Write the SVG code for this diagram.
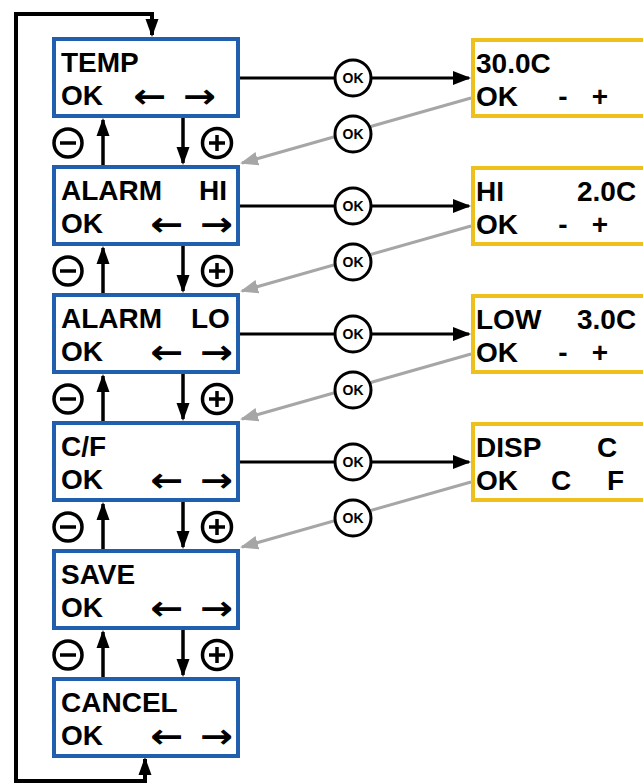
<svg xmlns="http://www.w3.org/2000/svg" width="643" height="784" viewBox="0 0 643 784">
<style>
.bx{fill:#fff;stroke:#1F5FAD;stroke-width:4}
.yb{fill:#fff;stroke:#EEC01B;stroke-width:4}
.t{font-family:"Liberation Sans",Arial,sans-serif;font-weight:bold;font-size:28px;fill:#000}
.arr{font-family:"DejaVu Sans",sans-serif;font-weight:bold;font-size:34px;fill:#000}
.mid{text-anchor:middle}
.ok{fill:#fff;stroke:#000;stroke-width:3}
.okt{font-family:"Liberation Sans",Arial,sans-serif;font-weight:bold;font-size:14px;text-anchor:middle;fill:#000}
.sym{fill:none;stroke:#000;stroke-width:3.5}
.blk{fill:none;stroke:#000;stroke-width:3}
.gry{fill:none;stroke:#A6A6A6;stroke-width:3}
.vt{fill:none;stroke:#000;stroke-width:3.5}
.loop{fill:none;stroke:#000;stroke-width:4}
</style>
<defs>
<marker id="ab" markerUnits="userSpaceOnUse" markerWidth="20" markerHeight="16" refX="16" refY="8" orient="auto"><path d="M0,1 L18,8 L0,15 Z" fill="#000"/></marker>
<marker id="ag" markerUnits="userSpaceOnUse" markerWidth="20" markerHeight="16" refX="16" refY="8" orient="auto"><path d="M0,1 L18,8 L0,15 Z" fill="#A6A6A6"/></marker>
<marker id="av" markerUnits="userSpaceOnUse" markerWidth="20" markerHeight="16" refX="16" refY="8" orient="auto-start-reverse"><path d="M0,1.5 L18,8 L0,14.5 Z" fill="#000"/></marker>
</defs>

<g id="connectors">
  <path class="loop" d="M145,759 V781 H16 V14 H152 V35" marker-start="url(#av)" marker-end="url(#av)"/>
  <path class="vt" d="M103,167 V120" marker-end="url(#av)"/>
  <path class="vt" d="M183,116 V163" marker-end="url(#av)"/>
  <path class="vt" d="M103,295 V248" marker-end="url(#av)"/>
  <path class="vt" d="M183,244 V291" marker-end="url(#av)"/>
  <path class="vt" d="M103,423 V376" marker-end="url(#av)"/>
  <path class="vt" d="M183,372 V419" marker-end="url(#av)"/>
  <path class="vt" d="M103,551 V504" marker-end="url(#av)"/>
  <path class="vt" d="M183,500 V547" marker-end="url(#av)"/>
  <path class="vt" d="M103,679 V632" marker-end="url(#av)"/>
  <path class="vt" d="M183,628 V675" marker-end="url(#av)"/>
  <path class="blk" d="M240,78 H469" marker-end="url(#ab)"/>
  <path class="blk" d="M240,206 H469" marker-end="url(#ab)"/>
  <path class="blk" d="M240,334 H469" marker-end="url(#ab)"/>
  <path class="blk" d="M240,462 H469" marker-end="url(#ab)"/>
  <path class="gry" d="M471,98 L242,163" marker-end="url(#ag)"/>
  <path class="gry" d="M471,226 L242,291" marker-end="url(#ag)"/>
  <path class="gry" d="M471,354 L242,419" marker-end="url(#ag)"/>
  <path class="gry" d="M471,482 L242,547" marker-end="url(#ag)"/>
  <g>
    <circle class="ok" cx="353" cy="78" r="18"/><text class="okt" x="353" y="83">OK</text>
    <circle class="ok" cx="353" cy="134" r="18"/><text class="okt" x="353" y="139">OK</text>
    <circle class="ok" cx="353" cy="206" r="18"/><text class="okt" x="353" y="211">OK</text>
    <circle class="ok" cx="353" cy="262" r="18"/><text class="okt" x="353" y="267">OK</text>
    <circle class="ok" cx="353" cy="334" r="18"/><text class="okt" x="353" y="339">OK</text>
    <circle class="ok" cx="353" cy="390" r="18"/><text class="okt" x="353" y="395">OK</text>
    <circle class="ok" cx="353" cy="462" r="18"/><text class="okt" x="353" y="467">OK</text>
    <circle class="ok" cx="353" cy="518" r="18"/><text class="okt" x="353" y="523">OK</text>
  </g>
  <g>
    <circle class="sym" cx="68" cy="143" r="14"/><path class="sym" d="M60,143 H76"/>
    <circle class="sym" cx="217" cy="143" r="14.5"/><path class="sym" d="M209,143 H225 M217,135 V151"/>
    <circle class="sym" cx="68" cy="271" r="14"/><path class="sym" d="M60,271 H76"/>
    <circle class="sym" cx="217" cy="271" r="14.5"/><path class="sym" d="M209,271 H225 M217,263 V279"/>
    <circle class="sym" cx="68" cy="399" r="14"/><path class="sym" d="M60,399 H76"/>
    <circle class="sym" cx="217" cy="399" r="14.5"/><path class="sym" d="M209,399 H225 M217,391 V407"/>
    <circle class="sym" cx="68" cy="527" r="14"/><path class="sym" d="M60,527 H76"/>
    <circle class="sym" cx="217" cy="527" r="14.5"/><path class="sym" d="M209,527 H225 M217,519 V535"/>
    <circle class="sym" cx="68" cy="655" r="14"/><path class="sym" d="M60,655 H76"/>
    <circle class="sym" cx="217" cy="655" r="14.5"/><path class="sym" d="M209,655 H225 M217,647 V663"/>
  </g>
</g>

<g id="menu-temp">
  <rect class="bx" x="54" y="39" width="184" height="77"/>
  <text class="t" x="61" y="72">TEMP</text>
  <text class="t" x="61" y="105">OK</text>
  <text class="arr" x="133" y="108" textLength="33" lengthAdjust="spacingAndGlyphs">←</text>
  <text class="arr" x="183" y="108" textLength="33" lengthAdjust="spacingAndGlyphs">→</text>
</g>
<g id="menu-alarm-hi">
  <rect class="bx" x="54" y="167" width="184" height="77"/>
  <text class="t" x="61" y="200">ALARM</text>
  <text class="t" x="199" y="200">HI</text>
  <text class="t" x="61" y="233">OK</text>
  <text class="arr" x="150" y="236" textLength="33" lengthAdjust="spacingAndGlyphs">←</text>
  <text class="arr" x="200" y="236" textLength="33" lengthAdjust="spacingAndGlyphs">→</text>
</g>
<g id="menu-alarm-lo">
  <rect class="bx" x="54" y="295" width="184" height="77"/>
  <text class="t" x="61" y="328">ALARM</text>
  <text class="t" x="191" y="328">LO</text>
  <text class="t" x="61" y="361">OK</text>
  <text class="arr" x="150" y="364" textLength="33" lengthAdjust="spacingAndGlyphs">←</text>
  <text class="arr" x="200" y="364" textLength="33" lengthAdjust="spacingAndGlyphs">→</text>
</g>
<g id="menu-cf">
  <rect class="bx" x="54" y="423" width="184" height="77"/>
  <text class="t" x="61" y="456">C/F</text>
  <text class="t" x="61" y="489">OK</text>
  <text class="arr" x="150" y="492" textLength="33" lengthAdjust="spacingAndGlyphs">←</text>
  <text class="arr" x="200" y="492" textLength="33" lengthAdjust="spacingAndGlyphs">→</text>
</g>
<g id="menu-save">
  <rect class="bx" x="54" y="551" width="184" height="77"/>
  <text class="t" x="61" y="584">SAVE</text>
  <text class="t" x="61" y="617">OK</text>
  <text class="arr" x="150" y="620" textLength="33" lengthAdjust="spacingAndGlyphs">←</text>
  <text class="arr" x="200" y="620" textLength="33" lengthAdjust="spacingAndGlyphs">→</text>
</g>
<g id="menu-cancel">
  <rect class="bx" x="54" y="679" width="184" height="77"/>
  <text class="t" x="61" y="712">CANCEL</text>
  <text class="t" x="61" y="745">OK</text>
  <text class="arr" x="150" y="748" textLength="33" lengthAdjust="spacingAndGlyphs">←</text>
  <text class="arr" x="200" y="748" textLength="33" lengthAdjust="spacingAndGlyphs">→</text>
</g>

<g id="value-temp">
  <rect class="yb" x="473" y="40" width="200" height="76"/>
  <text class="t" x="476" y="73">30.0C</text>
  <text class="t" x="476" y="106">OK</text>
  <text class="t mid" x="563" y="106">-</text>
  <text class="t mid" x="600" y="106">+</text>
</g>
<g id="value-hi">
  <rect class="yb" x="473" y="168" width="200" height="76"/>
  <text class="t" x="476" y="201">HI</text>
  <text class="t" x="577" y="201">2.0C</text>
  <text class="t" x="476" y="234">OK</text>
  <text class="t mid" x="563" y="234">-</text>
  <text class="t mid" x="600" y="234">+</text>
</g>
<g id="value-low">
  <rect class="yb" x="473" y="296" width="200" height="76"/>
  <text class="t" x="476" y="329">LOW</text>
  <text class="t" x="577" y="329">3.0C</text>
  <text class="t" x="476" y="362">OK</text>
  <text class="t mid" x="563" y="362">-</text>
  <text class="t mid" x="600" y="362">+</text>
</g>
<g id="value-disp">
  <rect class="yb" x="473" y="424" width="200" height="76"/>
  <text class="t" x="476" y="457">DISP</text>
  <text class="t" x="597" y="457">C</text>
  <text class="t" x="476" y="490">OK</text>
  <text class="t" x="551" y="490">C</text>
  <text class="t" x="607" y="490">F</text>
</g>
</svg>
